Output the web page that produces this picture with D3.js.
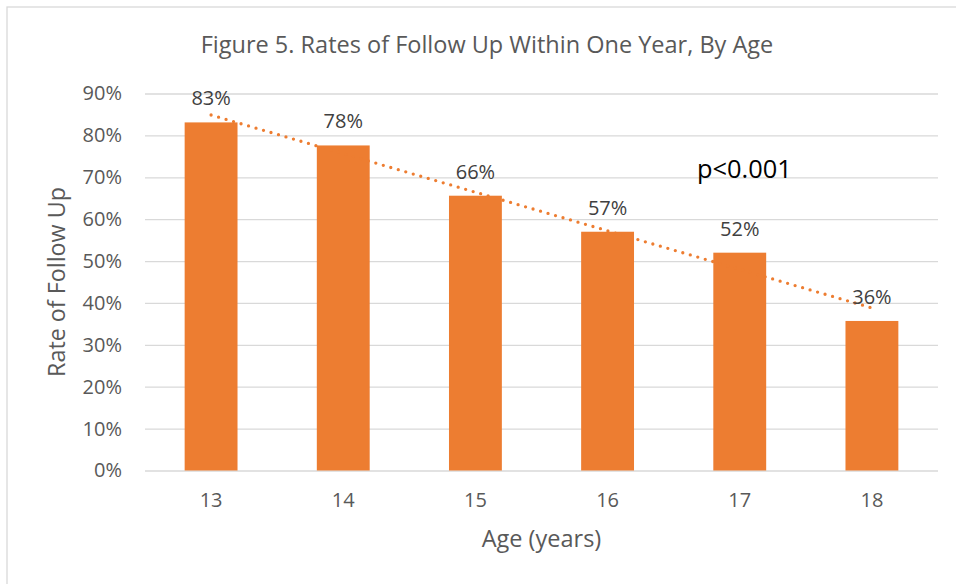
<!DOCTYPE html>
<html>
<head>
<meta charset="utf-8">
<script src="https://cdn.jsdelivr.net/npm/d3@7"></script>
<style>
  html, body { margin: 0; padding: 0; background: #fff; }
  svg text { font-family: "Open Sans", sans-serif; }
</style>
</head>
<body>
<div id="chart"></div>
<script>
// chart data
const ages = ['13', '14', '15', '16', '17', '18'];
const rates = [0.831, 0.776, 0.656, 0.570, 0.520, 0.357];
const rateLabels = ['83%', '78%', '66%', '57%', '52%', '36%'];
const yTicks = [0, 0.1, 0.2, 0.3, 0.4, 0.5, 0.6, 0.7, 0.8, 0.9];

const width = 956;
const height = 584;
const plot = { left: 145, right: 938, top: 93.5, bottom: 470.5 };

const svg = d3.select('#chart').append('svg')
  .attr('width', width)
  .attr('height', height);

// outer chart frame (only top / left edges show in the crop)
svg.append('rect')
  .attr('x', 7).attr('y', 7)
  .attr('width', 960).attr('height', 600)
  .attr('fill', 'none')
  .attr('stroke', '#d9d9d9')
  .attr('stroke-width', 1.3);

const x = d3.scaleBand()
  .domain(ages)
  .range([plot.left, plot.right])
  .paddingInner(0.6)
  .paddingOuter(0.3);

const y = d3.scaleLinear()
  .domain([0, 0.9])
  .range([plot.bottom, plot.top]);

// gridlines
const yAxis = svg.append('g')
  .attr('transform', `translate(${plot.left},0)`)
  .call(d3.axisLeft(y)
    .tickValues(yTicks)
    .tickSize(-(plot.right - plot.left))
    .tickPadding(23)
    .tickFormat(d3.format('.0%')));
yAxis.select('.domain').remove();
yAxis.selectAll('.tick line')
  .attr('stroke', '#d9d9d9')
  .attr('stroke-width', 1.3);
yAxis.selectAll('.tick text')
  .attr('fill', '#595959')
  .style('font-size', '20px');

// bars
svg.append('g').selectAll('rect')
  .data(rates)
  .join('rect')
  .attr('x', (d, i) => x(ages[i]))
  .attr('y', d => y(d))
  .attr('width', x.bandwidth())
  .attr('height', d => y(0) - y(d))
  .attr('fill', '#ed7d31');

// linear trendline, least squares over category index
const n = rates.length;
const xs = d3.range(1, n + 1);
const mx = d3.mean(xs), my = d3.mean(rates);
const slope = d3.sum(xs, (v, i) => (v - mx) * (rates[i] - my)) / d3.sum(xs, v => (v - mx) ** 2);
const icpt = my - slope * mx;
const trend = xs.map((v, i) => [x(ages[i]) + x.bandwidth() / 2, y(icpt + slope * v)]);

svg.append('path')
  .attr('d', d3.line()([trend[0], trend[n - 1]]))
  .attr('fill', 'none')
  .attr('stroke', '#ed7d31')
  .attr('stroke-width', 3.3)
  .attr('stroke-linecap', 'round')
  .attr('stroke-dasharray', '0 7.8');

// data labels
svg.append('g').selectAll('text')
  .data(rates)
  .join('text')
  .attr('x', (d, i) => x(ages[i]) + x.bandwidth() / 2)
  .attr('y', d => y(d) - 17)
  .attr('text-anchor', 'middle')
  .attr('fill', '#404040')
  .style('font-size', '20px')
  .text((d, i) => rateLabels[i]);

// x axis labels
const xAxis = svg.append('g')
  .attr('transform', `translate(0,${plot.bottom})`)
  .call(d3.axisBottom(x).tickSize(0).tickPadding(22));
xAxis.select('.domain').remove();
xAxis.selectAll('.tick text')
  .attr('fill', '#595959')
  .style('font-size', '20px');

// titles
svg.append('text')
  .attr('x', 487).attr('y', 53)
  .attr('text-anchor', 'middle')
  .attr('fill', '#595959')
  .style('font-size', '23.5px')
  .text('Figure 5. Rates of Follow Up Within One Year, By Age');

svg.append('text')
  .attr('x', (plot.left + plot.right) / 2).attr('y', 547)
  .attr('text-anchor', 'middle')
  .attr('fill', '#595959')
  .style('font-size', '23.5px')
  .text('Age (years)');

svg.append('text')
  .attr('transform', `translate(65,${(plot.top + plot.bottom) / 2}) rotate(-90)`)
  .attr('text-anchor', 'middle')
  .attr('fill', '#595959')
  .style('font-size', '23.3px')
  .text('Rate of Follow Up');

svg.append('text')
  .attr('x', 697).attr('y', 178)
  .attr('fill', '#000')
  .style('font-size', '25.4px')
  .text('p<0.001');
</script>
</body>
</html>
